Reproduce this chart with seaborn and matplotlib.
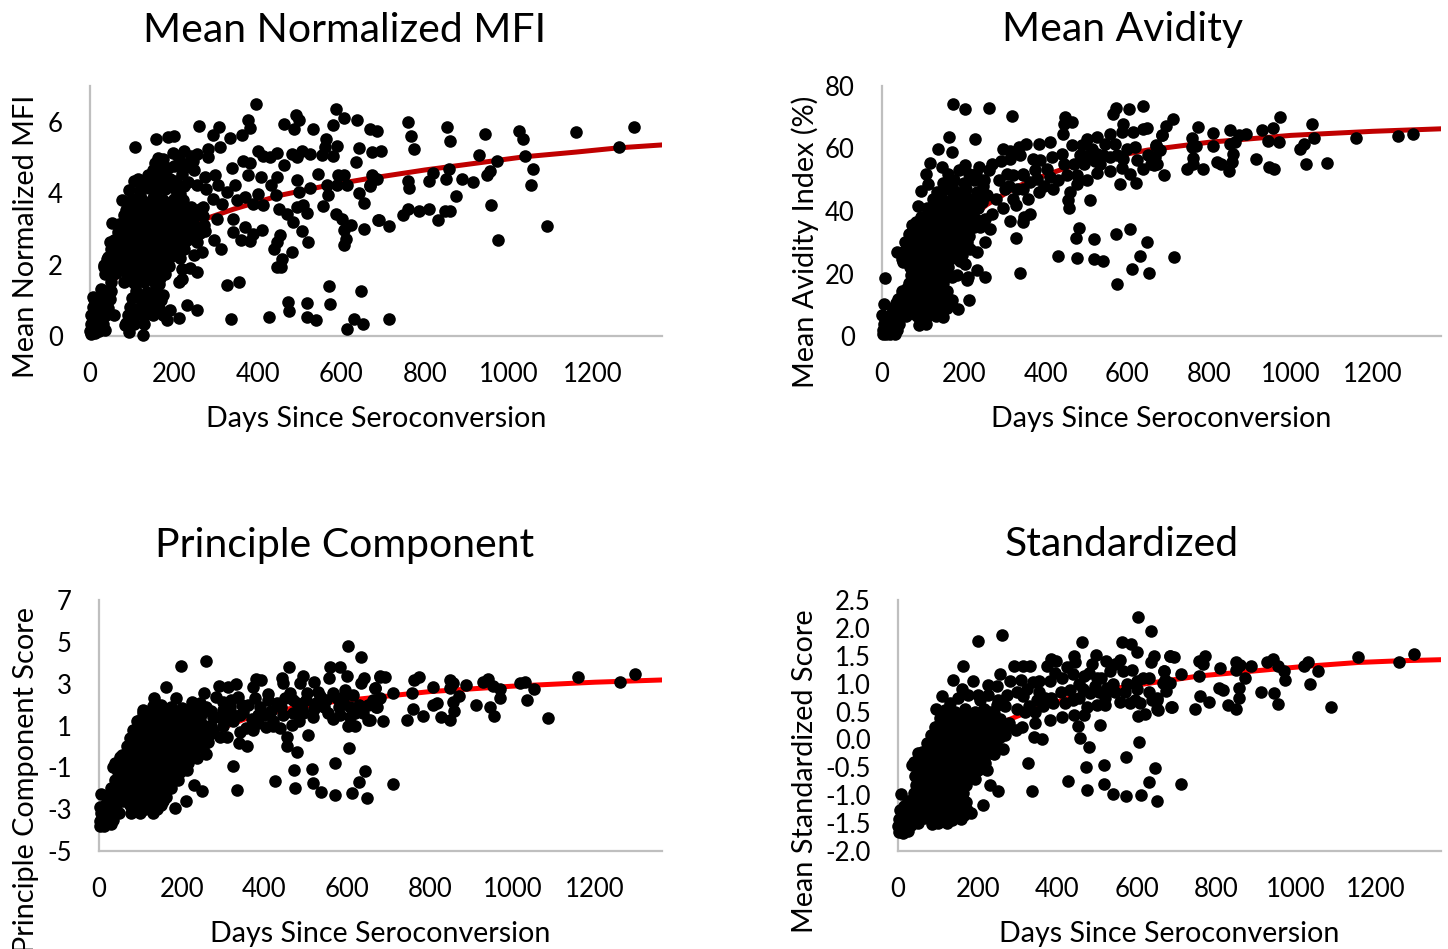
import pandas as pd
import matplotlib.pyplot as plt
import seaborn as sns

xticks = [0, 200, 400, 600, 800, 1000, 1200]
xlabel = 'Days Since Seroconversion'

mfi_curve_days = [0, 10, 25, 44, 70, 100, 150, 200, 278, 342, 454, 560, 660, 800, 1038, 1160, 1263, 1365]
mfi_curve = [0.3, 0.65, 1.0, 1.36, 1.75, 2.1, 2.6, 2.95, 3.29, 3.55, 3.94, 4.2, 4.4, 4.65, 5.02, 5.15, 5.27, 5.35]

mfi_sparse = [(395,6.5),(260,5.89),(376,6.05),(382,5.82),(363,5.62),(309,5.86),(294,5.63),(333,5.55),(282,5.24),(282,5.01),
    (310,5.29),(201,5.59),(187,5.57),(157,5.51),(108,5.28),(197,5.13),(224,5.17),(255,5.1),(162,4.99),(215,4.91),(235,4.82),
    (247,4.65),(219,4.54),(185,4.7),(161,4.78),(139,4.52),(115,4.4),(106,4.35),(94,4.1),(76,3.8),(191,4.4),(167,4.26),
    (215,3.98),(119,3.94),(87,3.52),(52,3.16),(80,3.1),(48,2.63),(72,2.68),(40,2.17),(34,1.94),(48,1.7),(26,1.33),(8,1.1),
    (637,6.06),(605,6.11),(587,6.36),(579,5.91),(533,5.8),(491,6.19),(499,6.05),(487,5.8),(462,5.94),(669,5.8),(684,5.73),
    (563,5.52),(561,5.29),(589,5.31),(643,5.26),(672,5.15),(553,5.08),(581,5.05),(635,4.87),(525,5.1),(505,5.19),(481,5.1),
    (493,5.01),(463,4.78),(446,5.12),(430,5.01),(412,5.05),(402,5.18),(366,4.91),(382,4.85),(340,4.7),(378,4.5),(408,4.45),
    (446,4.45),(432,4.24),(493,4.38),(544,4.54),(524,4.14),(499,4.03),(444,3.96),(402,3.98),(370,3.89),(346,4.24),(326,4.03),
    (414,3.66),(390,3.7),(350,3.8),(298,4.51),(275,4.45),(255,4.24),(278,4.12),(306,4.22),(294,3.84),(314,3.7),(270,3.61),
    (302,3.29),(342,3.29),(342,2.91),(370,3.05),(410,2.98),(388,2.87),(360,2.68),(382,2.66),(297,2.68),(312,2.43),(454,2.82),
    (446,2.63),(438,2.43),(481,2.36),(459,2.15),(446,1.94),(456,1.94),(507,2.93),(520,2.62),(450,3.57),(470,3.43),(485,3.19),
    (493,3.61),(509,3.66),(517,3.45),(557,3.64),(565,4.22),(569,3.94),(593,4.5),(605,4.52),(589,4.22),(613,4.22),(641,4.01),
    (654,3.73),(672,4.5),(669,4.24),(587,3.43),(601,3.29),(622,3.1),(605,2.96),(654,3.01),(611,2.73),(606,2.54),(687,3.24),
    (326,1.42),(355,1.5),(337,0.47),(428,0.54),(472,0.96),(475,0.71),(517,0.92),(517,0.52),(540,0.46),(571,1.4),(573,0.9),
    (646,1.26),(630,0.49),(651,0.33),(613,0.2),(255,0.73),(231,0.88),(212,0.51),(183,0.45),(192,0.73),(255,1.78),(239,1.91),
    (219,1.61),(213,1.52),(219,1.89),(267,2.36),(247,2.26),(127,0.03),(94,0.1),(83,0.31),(175,1.14),(155,1.05),
    (1299,5.85),(1160,5.71),(1263,5.28),(1023,5.75),(1034,5.52),(1038,5.05),(1056,4.68),(1052,4.24),(1090,3.09),(974,2.68),
    (956,3.68),(972,4.89),(929,5.07),(943,5.66),(955,4.61),(947,4.5),(915,4.31),(888,4.4),(874,3.92),(860,5.45),(851,5.86),
    (857,4.68),(849,4.4),(859,3.49),(847,3.49),(830,3.24),(810,3.55),(818,4.57),(810,4.33),(785,3.5),(760,3.57),(746,3.4),
    (760,4.33),(761,4.15),(773,5.24),(767,5.61),(759,5.98),(713,0.47),(713,3.08),(689,3.25),(694,5.17),(676,4.45),(684,4.4),(668,4.2)]
mfi_dense = [(100,3.84),(125,3.8),(150,3.86),(175,3.82),(200,3.85),(222,3.8),(92,3.6),(115,3.62),(140,3.58),(165,3.63),(190,3.6),
    (215,3.58),(240,3.62),(262,3.55),(80,3.38),(105,3.4),(130,3.36),(155,3.4),(180,3.37),(205,3.4),(230,3.36),(255,3.4),(270,3.35),
    (70,3.15),(95,3.17),(120,3.13),(145,3.16),(170,3.14),(195,3.17),(220,3.13),(245,3.16),(272,3.12),(66,2.91),(90,2.93),(115,2.9),
    (140,2.92),(165,2.9),(190,2.93),(215,2.9),(240,2.92),(262,2.88),(275,2.95),(58,2.68),(85,2.7),(110,2.67),(135,2.69),(160,2.66),
    (185,2.7),(210,2.67),(232,2.69),(255,2.62),(50,2.45),(75,2.47),(100,2.44),(125,2.46),(150,2.43),(175,2.46),(200,2.44),(225,2.45),
    (42,2.2),(68,2.22),(92,2.19),(118,2.21),(142,2.19),(168,2.22),(192,2.2),(214,2.18),(34,1.98),(60,2.0),(85,1.97),(110,1.99),
    (135,1.96),(160,1.99),(188,1.97),(36,1.75),(62,1.77),(88,1.74),(112,1.76),(138,1.73),(165,1.76),(180,1.74),(50,1.5),(80,1.52),
    (105,1.49),(130,1.51),(155,1.48),(165,1.46),(30,1.25),(50,1.27),(110,1.26),(135,1.24),(158,1.27),(10,1.05),(28,1.07),(48,1.04),
    (100,1.06),(122,1.03),(145,1.05),(170,1.02),(8,0.8),(25,0.82),(42,0.79),(95,0.81),(118,0.78),(140,0.8),(165,0.79),(3,0.59),
    (20,0.61),(38,0.58),(58,0.6),(90,0.59),(110,0.6),(130,0.57),(150,0.6),(175,0.58),(2,0.35),(15,0.37),(30,0.34),(85,0.36),
    (105,0.35),(130,0.33),(1,0.15),(10,0.17),(22,0.14),(35,0.16),(3,0.05),(12,0.08)]
mfi_fill = [(120,4.1),(140,4.15),(160,4.1),(180,4.12),(200,4.15),(225,4.2),(130,4.35),(150,4.4),(175,4.45),(205,4.35),(235,4.3),
    (150,4.65),(172,4.6),(200,4.75),(225,4.7),(245,4.9),(155,4.85),(175,4.95),(240,5.05),(210,5.05),(112,3.72),(138,3.72),(162,3.72),
    (188,3.72),(212,3.72),(250,3.5),(104,3.5),(128,3.5),(152,3.5),(178,3.5),(204,3.5),(228,3.5),(92,3.27),(118,3.27),(142,3.27),
    (168,3.27),(192,3.27),(218,3.27),(242,3.27),(80,3.03),(106,3.03),(130,3.03),(155,3.03),(180,3.03),(206,3.03),(230,3.03),(255,3.03),
    (76,2.8),(102,2.8),(126,2.8),(152,2.8),(176,2.8),(202,2.8),(228,2.8),(250,2.8),(70,2.56),(96,2.56),(122,2.56),(146,2.56),(172,2.56),
    (196,2.56),(222,2.56),(60,2.32),(86,2.32),(112,2.32),(136,2.32),(162,2.32),(186,2.32),(212,2.32),(48,2.09),(74,2.09),(98,2.09),
    (124,2.09),(150,2.09),(176,2.09),(48,1.87),(74,1.87),(98,1.87),(124,1.87),(150,1.87),(174,1.87),(92,1.62),(118,1.62),(144,1.62),(168,1.62)]

avidity_curve_days = [0, 20, 50, 105, 138, 200, 256, 330, 400, 460, 550, 650, 800, 1000, 1200, 1367]
avidity_curve = [2, 7, 13, 23, 29, 36, 42, 47.8, 51.5, 54.2, 57, 59.5, 62, 64.2, 65.5, 66.3]

avidity_sparse = [(174,74.2),(202,72.5),(262,72.9),(317,70.5),(164,63.8),(227,63),(137,59.9),(171,58.9),(118,55.5),(146,54.2),
    (202,54.7),(108,52),(112,48.5),(95,46.4),(88,41.6),(36,27),(7,18.7),(52,23.7),(5,10.4),(1,6.7),(213,11.5),(185,8.6),(252,19),
    (233,21),(211,19),(207,17.9),(183,19.5),(171,19),(338,20.2),(327,31.5),(252,30.2),(232,27),(215,28),(203,23.2),(264,34.2),
    (313,36.9),(344,36.6),(362,38.9),(348,38.2),(356,43.8),(327,41.9),(295,41),(270,39.2),(252,37.6),(240,35),(385,46),(417,46.9),
    (346,47),(321,51.5),(346,51.5),(362,49.4),(379,50.4),(411,51),(403,53.6),(387,56.3),(370,56.6),(338,57.9),(312,56.6),(295,60),
    (313,59.2),(334,60.6),(352,61.6),(384,61.6),(411,62),(415,57.4),(440,58.4),(464,61.1),(442,64.8),(448,70.2),(444,67.7),(464,68.6),
    (444,54.9),(452,51.5),(476,51.5),(476,48.8),(501,49.9),(525,52.3),(558,52.8),(581,48.8),(621,49.1),(607,52),(586,53.8),(639,53.6),
    (664,54.7),(623,56.3),(590,56.8),(558,57.4),(533,55.2),(493,55.2),(484,57.9),(513,60),(525,58.4),(501,63.2),(525,63.8),(558,64.8),
    (546,61.3),(570,61.6),(590,68),(586,65.4),(615,65.4),(639,66.2),(647,66.4),(619,60.6),(572,73),(564,71.2),(603,72.5),(638,73.7),
    (684,64.3),(670,61.1),(460,46.2),(456,43.5),(458,41.1),(509,43.5),(482,34.7),(474,31.4),(519,31.2),(572,32.8),(607,34.4),(647,30),
    (631,25.7),(430,25.6),(476,25),(519,24.5),(541,24),(612,21.4),(652,20.2),(574,16.6),(262,53),(285,50),(305,52),(330,47),(300,47),
    (280,44),(320,44),(345,52),(270,55),(250,50),(230,52),(290,56),(310,48),(375,53),(395,48),(430,50),(520,56),(470,55),(505,58),
    (490,61),(540,58),(600,60),(575,58),(650,58),
    (973,70.2),(1052,68),(955,66.4),(929,65.8),(890,64.6),(873,64.3),(851,66),(810,65),(773,66.9),(759,63.5),(712,69.3),(694,67.3),
    (684,64.3),(669,60.9),(681,59.5),(1056,63.4),(1159,63.4),(1262,64.1),(1299,64.5),(943,62.5),(971,62),(1032,61.4),(1023,59.8),
    (863,62),(851,61.3),(810,60.9),(767,60.8),(757,60.6),(859,58.1),(856,55.8),(849,52.8),(818,55.8),(830,55.2),(914,56.6),(947,54.2),
    (958,53.6),(1036,55),(1089,55.4),(785,53.6),(747,53.4),(761,57.1),(761,55.2),(689,51.5),(673,54.9),(659,55.2),(667,57.4),(714,25.2)]
avidity_dense = [(134,46),(158,47),(182,46),(206,47),(232,46),(256,45),(150,49),(175,50),(200,49),(225,50),(248,48),(110,41),(135,42),
    (160,41),(185,42),(210,41),(235,41),(95,38),(120,38),(145,38),(170,38),(195,38),(220,38),(73,35.5),(98,35.5),(123,35),(148,36),
    (173,35),(198,36),(225,35),(65,32.5),(90,33),(115,32.5),(140,33),(165,32.5),(190,33),(212,32),(57,30),(82,30),(107,30),(132,30.5),
    (157,30),(182,30),(207,30),(52,27),(75,27.5),(100,27),(125,27.5),(150,27),(175,27.5),(195,26),(48,24.5),(72,25),(97,24.5),(122,25),
    (147,24.5),(172,25),(190,24),(68,22),(92,22),(116,22),(140,22),(162,22),(70,19.5),(92,19.5),(115,19.5),(138,19.5),(158,19.5),
    (66,17),(88,17),(110,17),(132,17),(150,17),(48,14.5),(70,14.5),(92,14.5),(115,14.5),(138,14.5),(158,14.5),(40,12),(62,12),(85,12),
    (108,12),(130,12),(152,12),(172,11.5),(26,9),(45,9),(68,9),(90,9),(112,9),(135,9),(160,9),(16,6.5),(35,6.5),(58,6.5),(85,6.5),
    (110,6.5),(132,6.5),(150,6),(4,4),(15,4),(28,4),(42,4),(90,3.5),(108,4),(3,2),(12,2),(24,2),(36,2),(2,0.5),(10,0.5),(20,0.5),(32,0.5)]
avidity_fill = [(125,44),(147,44),(170,44),(195,44),(220,44),(245,43),(162,52),(188,53),(212,52),(238,54),(172,48),(198,46),(122,39.5),
    (148,39.5),(172,39.5),(198,39.5),(222,39.5),(84,36.5),(108,36.5),(134,36.5),(158,36.5),(184,36.5),(210,36.5),(232,37),(78,34),
    (104,34),(130,34),(155,34),(180,34),(205,34),(70,31),(96,31),(122,31),(146,31),(172,31),(198,31),(64,28.5),(90,28.5),(114,28.5),
    (140,28.5),(166,28.5),(190,28.5),(60,26),(86,26),(110,26),(136,26),(162,26),(184,26),(80,23.5),(104,23.5),(130,23.5),(154,23.5),
    (104,21),(128,21),(150,21),(80,18),(104,18),(126,18),(148,18),(60,15.5),(82,15.5),(104,15.5),(126,15.5),(148,15.5),(50,13),(74,13),
    (96,13),(120,13),(142,13),(35,10.5),(56,10.5),(78,10.5),(100,10.5),(122,10.5),(146,10.5),(168,10.5),(25,7.5),(48,7.5),(74,7.5),
    (100,7.5),(122,7.5),(146,7.5),(10,3),(22,3),(34,3),(5,1),(15,1),(26,1)]

pc_curve_days = [0, 20, 47, 100, 150, 200, 280, 353, 454, 550, 647, 800, 1000, 1200, 1366]
pc_curve = [-3.4, -2.9, -2.32, -1.4, -0.6, -0.05, 0.75, 1.31, 1.78, 2.1, 2.3, 2.62, 2.88, 3.07, 3.18]

pc_sparse = [(603,4.8),(635,4.26),(259,4.1),(198,3.86),(459,3.81),(560,3.78),(584,3.81),(162,2.86),(186,2.3),(134,2.33),(254,2.57),
    (291,2.89),(331,2.97),(313,2.83),(379,3.21),(393,3.18),(373,2.86),(442,3.26),(444,3.02),(494,3.37),(486,3.02),(520,3.1),(557,3.26),
    (599,3.37),(641,3.26),(633,3.02),(680,3.34),(668,2.78),(502,2.54),(462,2.54),(409,2.51),(377,2.3),(337,2.35),(284,2.38),(224,2.14),
    (244,2.06),(260,1.9),(301,1.74),(317,1.9),(349,1.66),(389,1.9),(430,2.06),(478,2.06),(526,2.06),(567,2.54),(591,2.22),(615,2.46),
    (663,2.22),(671,1.9),(639,1.62),(651,1.27),(607,1.9),(607,1.42),(603,0.98),(619,0.98),(555,1.58),(583,1.5),(518,1.42),(494,1.58),
    (466,1.03),(446,1.5),(405,0.95),(373,0.79),(341,0.71),(309,0.47),(293,0.47),(264,0.23),(505,0.55),(438,0.87),(454,0.47),(454,0),
    (480,-0.28),(338,0.15),(357,0.04),(325,-0.93),(335,-2.1),(426,-1.65),(471,-1.14),(516,-1.06),(570,-0.79),(605,-0.09),(644,-1.17),
    (628,-1.71),(474,-1.97),(517,-1.76),(536,-2.18),(571,-2.3),(611,-2.21),(649,-2.46),(211,-2.6),(250,-2.11),(230,-1.84),(183,-2.96),
    (192,-1.6),(212,-1.12),(260,-0.36),(236,-0.57),(93,1.23),(107,1.74),(119,1.58),(50,-0.49),(33,-0.97),(4,-2.27),(2,-2.9),
    (320,2.2),(360,2.0),(300,1.3),(340,1.5),(400,1.5),(420,1.2),(370,1.3),(530,2.6),(550,2.2),(580,1.9),(470,1.6),(500,2.2),(280,1.4),(270,1.0),
    (1297,3.48),(1158,3.34),(1261,3.08),(1087,1.36),(1035,2.22),(1053,2.73),(1031,3.1),(1019,3.02),(971,2.3),(969,2.73),(954,2.89),
    (942,3.22),(928,3.07),(946,1.9),(956,1.47),(912,1.97),(887,2.94),(872,2.43),(856,3.05),(850,3.18),(848,2.78),(856,2.13),(858,1.7),
    (848,1.27),(828,1.42),(817,2.06),(807,2.0),(808,2.83),(783,1.44),(759,1.81),(745,1.28),(757,2.54),(773,3.34),(761,3.18),(711,2.54),
    (692,3.3),(680,3.37),(688,1.23),(712,-1.78),(668,2.78),(680,2.3),(672,1.9),(656,1.27)]
pc_dense = [(107,1.6),(132,1.55),(157,1.6),(182,1.55),(205,1.6),(228,1.5),(95,1.2),(120,1.2),(145,1.2),(170,1.2),(195,1.2),(220,1.2),
    (245,1.2),(83,0.8),(108,0.8),(133,0.8),(158,0.8),(183,0.8),(208,0.8),(233,0.8),(258,0.75),(276,0.75),(75,0.4),(100,0.4),(125,0.4),
    (150,0.4),(175,0.4),(200,0.4),(225,0.4),(250,0.4),(67,0),(92,0),(117,0),(142,0),(167,0),(192,0),(217,0),(242,0),(252,-0.05),
    (55,-0.4),(80,-0.4),(105,-0.4),(130,-0.4),(155,-0.4),(180,-0.4),(205,-0.4),(225,-0.4),(38,-0.8),(63,-0.8),(88,-0.8),(113,-0.8),
    (138,-0.8),(163,-0.8),(188,-0.8),(215,-0.8),(45,-1.2),(70,-1.2),(95,-1.2),(120,-1.2),(145,-1.2),(170,-1.2),(195,-1.2),(38,-1.6),
    (63,-1.6),(88,-1.6),(113,-1.6),(138,-1.6),(163,-1.6),(185,-1.6),(30,-2.0),(55,-2.0),(80,-2.0),(105,-2.0),(130,-2.0),(155,-2.0),
    (175,-2.0),(20,-2.4),(45,-2.4),(70,-2.4),(95,-2.4),(120,-2.4),(145,-2.4),(163,-2.4),(15,-2.8),(40,-2.8),(75,-2.8),(100,-2.8),
    (125,-2.8),(150,-2.8),(5,-3.2),(25,-3.2),(48,-3.2),(78,-3.2),(100,-3.2),(130,-3.2),(2,-3.55),(18,-3.5),(35,-3.5),(2,-3.8),(12,-3.8),(28,-3.7)]
pc_fill = [(130,1.95),(150,2.0),(175,1.9),(200,1.85),(225,1.85),(250,1.6),(275,1.4),(300,1.5),(120,1.4),(145,1.4),(170,1.4),(195,1.4),
    (220,1.4),(245,1.4),(108,1.0),(132,1.0),(158,1.0),(182,1.0),(208,1.0),(232,1.0),(256,1.0),(96,0.6),(120,0.6),(146,0.6),(170,0.6),
    (196,0.6),(220,0.6),(246,0.6),(268,0.6),(88,0.2),(112,0.2),(138,0.2),(162,0.2),(188,0.2),(212,0.2),(238,0.2),(80,-0.2),(104,-0.2),
    (130,-0.2),(154,-0.2),(180,-0.2),(204,-0.2),(230,-0.2),(68,-0.6),(92,-0.6),(118,-0.6),(142,-0.6),(168,-0.6),(192,-0.6),(218,-0.6),
    (58,-1.0),(82,-1.0),(108,-1.0),(132,-1.0),(158,-1.0),(182,-1.0),(205,-1.0),(58,-1.4),(82,-1.4),(108,-1.4),(132,-1.4),(158,-1.4),
    (180,-1.4),(50,-1.8),(75,-1.8),(100,-1.8),(126,-1.8),(150,-1.8),(170,-1.8),(34,-2.2),(60,-2.2),(84,-2.2),(110,-2.2),(136,-2.2),
    (160,-2.2),(30,-2.6),(58,-2.6),(84,-2.6),(110,-2.6),(136,-2.6),(155,-2.6),(12,-3.0),(32,-3.0),(88,-3.0),(112,-3.0),(140,-3.0),
    (300,1.0),(325,1.2),(355,0.9),(385,1.1),(415,1.7),(440,1.9),(470,2.2),(520,1.8),(545,1.9),(575,2.3),(630,2.0),(320,1.6),(345,2.0),
    (385,1.5),(410,2.2),(450,2.3),(490,1.8),(535,2.4),(595,2.7),(620,1.6),(650,2.0),(565,1.3),(485,1.2),(420,1.0),(300,2.1),(270,1.7)]

std_curve_days = [0, 20, 47, 100, 150, 200, 277, 349, 466, 550, 633, 759, 1022, 1156, 1259, 1366]
std_curve = [-1.55, -1.3, -1.05, -0.55, -0.2, 0.05, 0.35, 0.56, 0.82, 0.92, 1.01, 1.14, 1.31, 1.38, 1.41, 1.43]

std_sparse = [(604,2.19),(636,1.94),(261,1.87),(200,1.77),(462,1.74),(562,1.74),(585,1.72),(601,1.56),(497,1.51),(443,1.49),(445,1.38),
    (384,1.44),(396,1.41),(375,1.31),(487,1.35),(523,1.4),(558,1.43),(642,1.49),(635,1.38),(682,1.49),(164,1.31),(137,1.07),(188,1.04),
    (256,1.17),(292,1.31),(332,1.32),(315,1.31),(225,0.98),(248,0.95),(281,1.04),(308,1.07),(340,1.03),(353,1.04),(382,1.04),(411,1.11),
    (439,1.17),(466,1.13),(499,1.1),(533,1.22),(566,1.22),(587,1.25),(616,1.1),(668,1.23),(671,1.07),(110,0.78),(96,0.55),(160,0.9),
    (206,0.71),(248,0.62),(273,0.8),(315,0.77),(349,0.71),(390,0.65),(432,0.89),(482,0.83),(524,0.92),(558,0.68),(596,0.71),(650,0.71),
    (652,0.53),(688,0.58),(621,0.45),(604,0.42),(583,0.65),(608,0.65),(508,0.26),(520,0.62),(499,0.62),(474,0.59),(466,0.44),(441,0.44),
    (411,0.41),(382,0.35),(344,0.3),(311,0.23),(297,0.17),(269,0.08),(453,0.24),(457,0.02),(481,-0.13),(361,0.01),(342,0.05),(265,-0.17),
    (240,-0.26),(326,-0.42),(336,-0.93),(428,-0.74),(472,-0.5),(518,-0.45),(572,-0.31),(606,-0.04),(646,-0.51),(630,-0.77),(474,-0.9),
    (518,-0.79),(539,-0.98),(572,-1.02),(611,-0.99),(651,-1.1),(213,-1.17),(250,-0.93),(231,-0.81),(184,-1.32),(194,-0.71),(219,-0.43),
    (223,-0.54),(7,-0.98),(51,-0.25),(34,-0.45),(47,-0.69),(300,0.85),(330,0.6),(370,0.75),(420,0.65),(455,0.75),(505,0.85),(540,1.0),
    (1296,1.54),(1156,1.47),(1259,1.38),(1087,0.58),(1036,0.99),(1054,1.23),(1031,1.38),(1021,1.31),(971,1.06),(970,1.23),(954,1.31),
    (943,1.44),(926,1.39),(945,0.83),(955,0.63),(912,0.85),(887,1.31),(872,1.11),(849,1.38),(859,1.34),(849,1.25),(856,0.93),(857,0.74),
    (848,0.55),(828,0.61),(816,0.89),(806,0.92),(809,1.28),(782,0.67),(759,0.77),(746,0.55),(757,1.14),(772,1.5),(757,1.4),(765,1.35),
    (711,1.17),(693,1.47),(682,1.5),(687,0.58),(711,-0.8),(668,1.22),(682,1.02),(666,1.02),(673,0.86),(651,0.74),(651,0.54),(637,0.71)]
std_dense = [(118,0.53),(143,0.5),(168,0.55),(193,0.5),(215,0.55),(231,0.5),(105,0.38),(130,0.36),(155,0.38),(180,0.36),(205,0.38),(230,0.36),
    (255,0.36),(93,0.23),(118,0.22),(143,0.23),(168,0.21),(193,0.23),(218,0.21),(243,0.22),(268,0.2),(83,0.08),(108,0.08),(133,0.07),
    (158,0.08),(183,0.06),(208,0.08),(233,0.07),(256,0.05),(72,-0.07),(97,-0.07),(122,-0.08),(147,-0.07),(172,-0.09),(197,-0.07),(222,-0.08),
    (245,-0.08),(60,-0.22),(85,-0.22),(110,-0.23),(135,-0.22),(160,-0.24),(185,-0.22),(210,-0.23),(230,-0.24),(39,-0.4),(65,-0.38),(90,-0.38),
    (115,-0.39),(140,-0.38),(165,-0.4),(190,-0.38),(215,-0.4),(50,-0.52),(75,-0.52),(100,-0.53),(125,-0.52),(150,-0.54),(175,-0.52),(200,-0.54),
    (43,-0.66),(68,-0.66),(93,-0.67),(118,-0.66),(143,-0.68),(168,-0.66),(181,-0.68),(45,-0.81),(70,-0.81),(95,-0.82),(120,-0.81),(145,-0.83),
    (170,-0.81),(39,-0.96),(64,-0.96),(89,-0.97),(114,-0.96),(139,-0.98),(164,-0.96),(25,-1.11),(50,-1.11),(75,-1.12),(100,-1.11),(125,-1.13),
    (150,-1.11),(172,-1.13),(5,-1.26),(25,-1.26),(48,-1.27),(64,-1.26),(82,-1.26),(105,-1.27),(130,-1.26),(155,-1.28),(173,-1.26),(3,-1.42),
    (22,-1.42),(45,-1.42),(65,-1.4),(88,-1.44),(112,-1.42),(135,-1.44),(158,-1.42),(1,-1.55),(15,-1.55),(32,-1.54),(50,-1.5),(85,-1.52),
    (2,-1.66),(12,-1.68),(26,-1.64)]
std_fill = [(130,0.65),(150,0.75),(175,0.8),(200,0.8),(225,0.8),(250,0.7),(270,0.6),(130,0.45),(155,0.45),(180,0.45),(205,0.45),(240,0.48),
    (105,0.3),(130,0.3),(155,0.3),(180,0.3),(205,0.3),(232,0.3),(280,0.3),(96,0.15),(120,0.15),(146,0.15),(170,0.15),(196,0.15),(220,0.15),
    (246,0.15),(90,0),(115,0),(140,0),(165,0),(190,0),(215,0),(238,0),(75,-0.15),(100,-0.15),(125,-0.15),(150,-0.15),(175,-0.15),(200,-0.15),
    (225,-0.15),(52,-0.3),(78,-0.3),(102,-0.3),(128,-0.3),(152,-0.3),(178,-0.3),(202,-0.3),(62,-0.46),(88,-0.46),(112,-0.46),(138,-0.46),
    (162,-0.46),(188,-0.46),(56,-0.6),(82,-0.6),(106,-0.6),(132,-0.6),(156,-0.6),(180,-0.6),(56,-0.74),(82,-0.74),(106,-0.74),(132,-0.74),
    (156,-0.74),(58,-0.89),(82,-0.89),(108,-0.89),(132,-0.89),(158,-0.89),(40,-1.04),(64,-1.04),(88,-1.04),(112,-1.04),(138,-1.04),(160,-1.04),
    (14,-1.19),(38,-1.19),(62,-1.19),(88,-1.19),(112,-1.19),(138,-1.19),(162,-1.19),(14,-1.35),(36,-1.35),(56,-1.35),(92,-1.35),(118,-1.35),
    (142,-1.35),(165,-1.35),(10,-1.48),(30,-1.48),(100,-1.5),(122,-1.5),
    (300,0.55),(325,0.9),(355,0.85),(385,0.75),(410,0.85),(440,0.7),(465,0.9),(495,0.95),(520,0.75),(545,0.85),(575,1.0),(600,0.9),(630,1.1),
    (320,0.5),(345,0.5),(365,0.6),(395,1.2),(425,1.3),(455,1.0),(480,1.2),(510,1.1),(545,1.35),(570,0.85),(600,1.05),(630,0.85)]

titles = ['Mean Normalized MFI', 'Mean Avidity', 'Principle Component', 'Standardized']
ylabels = ['Mean Normalized MFI', 'Mean Avidity Index (%)', 'Principle Component Score', 'Mean Standardized Score']
yticks = [[0, 2, 4, 6], [0, 20, 40, 60, 80], [-5, -3, -1, 1, 3, 5, 7],
          [-2.0, -1.5, -1.0, -0.5, 0.0, 0.5, 1.0, 1.5, 2.0, 2.5]]
yformats = ['%d', '%d', '%d', '%.1f']
ylims = [(0, 7), (0, 80), (-5, 7), (-2, 2.5)]
xmaxes = [1365, 1367, 1362, 1364]
line_colors = ['#c00000', '#c00000', '#ff0000', '#ff0000']
points = [mfi_sparse + mfi_dense + mfi_fill, avidity_sparse + avidity_dense + avidity_fill,
          pc_sparse + pc_dense + pc_fill, std_sparse + std_dense + std_fill]
curves = [(mfi_curve_days, mfi_curve), (avidity_curve_days, avidity_curve), (pc_curve_days, pc_curve), (std_curve_days, std_curve)]

# pixel boxes of the plot areas, left/right/top/bottom, and where the text sits
boxes = [(90, 662, 86, 336), (882, 1441, 86, 336), (99, 662, 600, 851), (898, 1441, 600, 851)]
title_pos = [(345, 30), (1123, 30), (345, 545), (1122, 545)]
ylabel_pos = [(26, 236), (805, 242), (26, 780), (805, 771)]
W, H = 1448, 949

sns.set_theme(style='white')
plt.rcParams['font.family'] = ['Lato', 'DejaVu Sans']

fig = plt.figure(figsize=(W / 100, H / 100), dpi=100)
for i in range(4):
    left, right, top, bottom = boxes[i]
    ax = fig.add_axes([left / W, 1 - bottom / H, (right - left) / W, (bottom - top) / H])
    df = pd.DataFrame(points[i], columns=['days', 'value'])
    curve = pd.DataFrame({'days': curves[i][0], 'value': curves[i][1]})
    sns.lineplot(data=curve, x='days', y='value', color=line_colors[i], linewidth=3.6, estimator=None, ax=ax, zorder=2)
    sns.scatterplot(data=df, x='days', y='value', color='black', s=82, linewidth=0, clip_on=False, ax=ax, zorder=3)
    ax.set_xlim(0, xmaxes[i])
    ax.set_ylim(*ylims[i])
    ax.set_xticks(xticks)
    ax.set_yticks(yticks[i])
    ax.set_yticklabels([yformats[i] % t for t in yticks[i]])
    ax.tick_params(axis='x', labelsize=18.5, pad=19, length=0, labelcolor='black')
    ax.tick_params(axis='y', labelsize=18.5, pad=19.5, length=0, labelcolor='black')
    ax.set_xlabel('')
    ax.set_ylabel('')
    sns.despine(ax=ax)
    for side in ['left', 'bottom']:
        ax.spines[side].set_color('#bfbfbf')
        ax.spines[side].set_linewidth(1.6)
    fig.text(title_pos[i][0] / W, 1 - title_pos[i][1] / H, titles[i], fontsize=29.5, ha='center', va='center', color='black')
    fig.text((left + right) / 2 / W, 1 - (bottom + 83) / H, xlabel, fontsize=20.6, ha='center', va='center', color='black')
    fig.text(ylabel_pos[i][0] / W, 1 - ylabel_pos[i][1] / H, ylabels[i], fontsize=20.8, rotation=90, ha='center', va='center', color='black')

fig.savefig('out.png', dpi=100)
